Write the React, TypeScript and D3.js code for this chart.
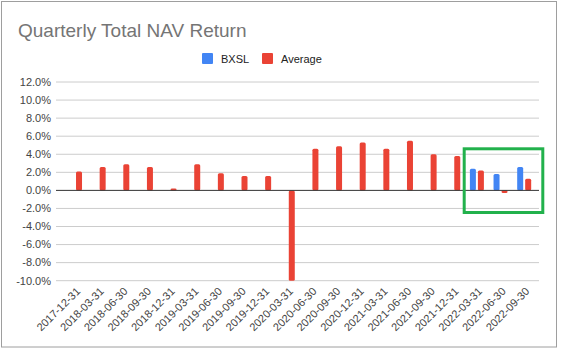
import React from "react";
import * as d3 from "d3";

const categories = [
  "2017-12-31", "2018-03-31", "2018-06-30", "2018-09-30", "2018-12-31",
  "2019-03-31", "2019-06-30", "2019-09-30", "2019-12-31", "2020-03-31",
  "2020-06-30", "2020-09-30", "2020-12-31", "2021-03-31", "2021-06-30",
  "2021-09-30", "2021-12-31", "2022-03-31", "2022-06-30", "2022-09-30",
];
const bxsl: (number | null)[] = [
  null, null, null, null, null, null, null, null, null, null,
  null, null, null, null, null, null, null, 2.4, 1.8, 2.6,
];
const average: (number | null)[] = [
  2.1, 2.6, 2.9, 2.6, 0.2, 2.9, 1.9, 1.6, 1.6, -10.0,
  4.6, 4.9, 5.3, 4.6, 5.5, 4.0, 3.8, 2.2, -0.3, 1.3,
];
const yTicks = [-10, -8, -6, -4, -2, 0, 2, 4, 6, 8, 10, 12];
const seriesNames = ["BXSL", "Average"];
const colors = ["#4285F4", "#EA4335"];

const W = 562;
const H = 355;
const FONT = "Arial, 'Liberation Sans', sans-serif";

export default function App() {
  const y = d3.scaleLinear().domain([-10, 12]).range([280.7, 82]);
  const x = d3.scaleBand<string>().domain(categories).range([63.2, 536]);
  const barW = 6;
  const gap = 2;
  const series = [bxsl, average];
  const gridX0 = 56;
  const gridX1 = 539;

  return (
    <svg width={W} height={H} style={{ position: "absolute", left: 0, top: 0, background: "#fff" }}>
      <rect x={1.5} y={1.5} width={555} height={345.5} fill="#fff" stroke="#9e9e9e" strokeWidth={1} />
      <text x={18} y={37} fontFamily={FONT} fontSize={19} fill="#757575">
        Quarterly Total NAV Return
      </text>
      {/* legend */}
      <g fontFamily={FONT} fontSize={11} fill="#222">
        <rect x={202} y={53} width={11} height={11} rx={1} fill={colors[0]} />
        <text x={221} y={62.5}>{seriesNames[0]}</text>
        <rect x={262} y={53} width={11} height={11} rx={1} fill={colors[1]} />
        <text x={281} y={62.5}>{seriesNames[1]}</text>
      </g>
      {/* grid */}
      {yTicks.map((t) => (
        <g key={t}>
          {t !== 0 && (
            <line x1={gridX0} x2={gridX1} y1={y(t)} y2={y(t)} stroke="#cccccc" strokeWidth={1} />
          )}
          <text
            x={51}
            y={y(t)}
            dy="0.35em"
            textAnchor="end"
            fontFamily={FONT}
            fontSize={11}
            fill="#444"
          >
            {t.toFixed(1) + "%"}
          </text>
        </g>
      ))}
      {/* bars */}
      {categories.map((c, i) => {
        const cx = (x(c) as number) + x.bandwidth() / 2;
        return (
          <g key={c}>
            {series.map((s, k) => {
              const v = s[i];
              if (v === null || v === undefined) return null;
              const left = k === 0 ? cx - gap / 2 - barW : cx + gap / 2;
              const y0 = y(0);
              const y1 = y(v);
              return (
                <rect
                  key={k}
                  x={left}
                  y={Math.min(y0, y1)}
                  width={barW}
                  height={Math.max(1, Math.abs(y1 - y0))}
                  rx={1.5}
                  fill={colors[k]}
                />
              );
            })}
          </g>
        );
      })}
      <line x1={gridX0} x2={gridX1} y1={y(0)} y2={y(0)} stroke="#333333" strokeWidth={1} />
      {/* x labels */}
      {categories.map((c) => {
        const cx = (x(c) as number) + x.bandwidth() / 2;
        const ty = 292;
        const tx = cx + 6;
        return (
          <text
            key={c}
            x={tx}
            y={ty}
            textAnchor="end"
            transform={`rotate(-45 ${tx} ${ty})`}
            fontFamily={FONT}
            fontSize={11}
            fill="#444"
          >
            {c}
          </text>
        );
      })}
      {/* highlight box */}
      <rect x={464.2} y={148.8} width={78.6} height={63.7} fill="none" stroke="#22B14C" strokeWidth={3} />
    </svg>
  );
}
